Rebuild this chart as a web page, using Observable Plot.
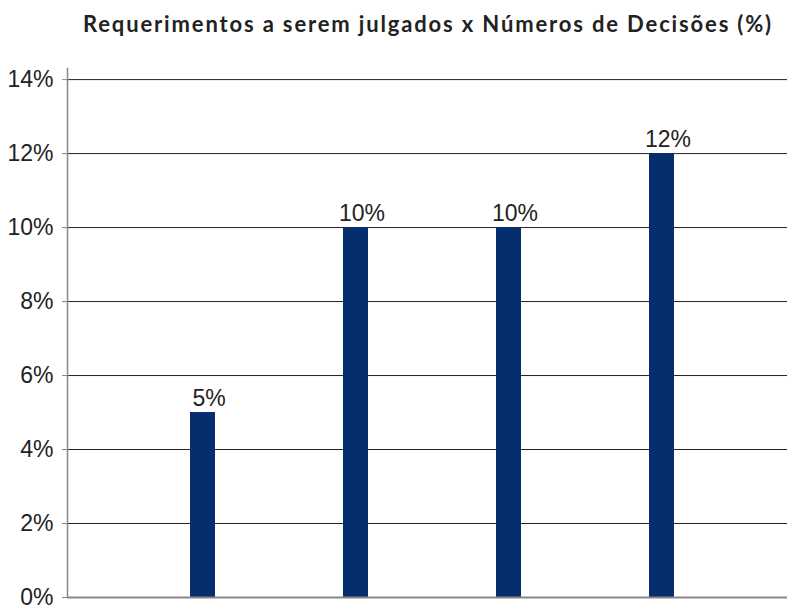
<!DOCTYPE html>
<html>
<head>
<meta charset="utf-8">
<script src="https://cdn.jsdelivr.net/npm/d3@7"></script>
<script src="https://cdn.jsdelivr.net/npm/@observablehq/plot@0.6"></script>
<style>
  html, body { margin: 0; padding: 0; background: #fff; overflow: hidden; }
  #title { height: 60px; position: relative; }
  #title span { position: absolute; left: 83px; top: 10px; font-family: Lato, "Open Sans", sans-serif; font-weight: bold; font-size: 22px; color: #222; white-space: nowrap; }
</style>
</head>
<body>
<div id="title"><span id="tt">Requerimentos a serem julgados x Números de Decisões (%)</span></div>
<div id="chart"></div>
<script>
const categories = ["1", "2", "3", "4"];
const values = [5, 10, 10, 12];
const yTicks = [0, 2, 4, 6, 8, 10, 12, 14];

const data = categories.map((c, i) => ({category: c, value: values[i]}));

const chart = Plot.plot({
  width: 787,
  height: 567,
  marginTop: 8,
  marginBottom: 30,
  marginLeft: 67,
  marginRight: 0,
  style: {fontFamily: "'Liberation Sans', Arial, sans-serif", background: "#fff"},
  x: {type: "band", domain: categories, range: [113, 750], paddingInner: 0.837, paddingOuter: 0.5, axis: null},
  y: {domain: [0, 14.3], axis: null},
  marks: [
    Plot.ruleY(yTicks.filter(d => d > 0), {stroke: "#222", strokeWidth: 1}),
    Plot.barY(data, {x: "category", y: "value", fill: "#062d6e"}),
    Plot.ruleY([0], {stroke: "#888", strokeWidth: 2}),
    Plot.frame({anchor: "left", stroke: "#888", strokeWidth: 1.5}),
    Plot.axisY({ticks: yTicks, tickFormat: d => d + "%", tickSize: 5, tickPadding: 9, fontSize: 23, color: "#222", stroke: "#888", label: null}),
    Plot.text(data, {x: "category", y: "value", text: d => d.value + "%", lineAnchor: "bottom", dy: -7, dx: 6, fontSize: 23, fill: "#222"})
  ]
});
document.getElementById("chart").appendChild(chart);

// stretch title to the reference width (about 690px)
const tt = document.getElementById("tt");
const w = tt.getBoundingClientRect().width;
const n = tt.textContent.length;
tt.style.letterSpacing = ((690 - w) / n) + "px";
</script>
</body>
</html>
